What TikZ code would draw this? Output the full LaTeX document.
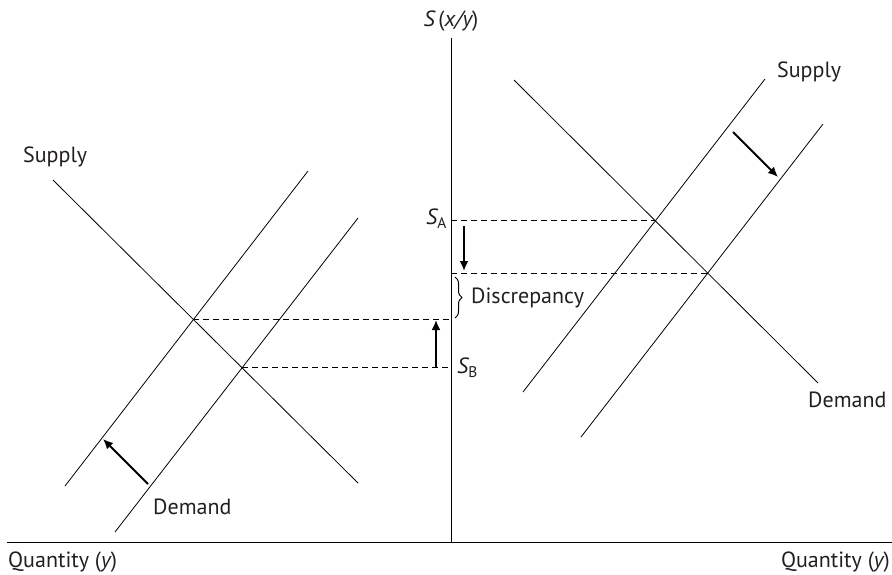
\documentclass[tikz,border=0pt]{standalone}
\usepackage{fontspec}
\setmainfont{PT Sans}
\usetikzlibrary{arrows.meta,decorations.pathreplacing}
\definecolor{InkColor}{HTML}{000000}
\definecolor{LabelColor}{HTML}{231F20}

\begin{document}
\begin{tikzpicture}[x=1pt,y=-1pt,
  curve/.style={line width=0.8pt, color=InkColor},
  axisline/.style={line width=0.9pt, color=InkColor},
  guide/.style={line width=1.1pt, dash pattern=on 6pt off 4pt},
  shiftarrow/.style={line width=1.9pt, -{Latex[length=10pt,width=9pt]}},
  lbl/.style={font=\fontsize{22}{26}\selectfont, text=LabelColor, inner sep=0pt}]
  \useasboundingbox (0,0) rectangle (892,574);

  % axes
  \coordinate (ytop) at (451,38);
  \coordinate (ybot) at (451,542);
  \coordinate (xleft) at (7,542);
  \coordinate (xright) at (892,542);
  \draw[axisline] (ytop) -- (ybot);
  \draw[axisline] (xleft) -- (xright);

  % left market
  \coordinate (lsupA) at (53,180);
  \coordinate (lsupB) at (358,483);
  \coordinate (ldemA) at (65,486);
  \coordinate (ldemB) at (308,171);
  \coordinate (ldemnA) at (115,532);
  \coordinate (ldemnB) at (358,218);
  \draw[curve] (lsupA) -- (lsupB);
  \draw[curve] (ldemA) -- (ldemB);
  \draw[curve] (ldemnA) -- (ldemnB);
  \coordinate (leqA) at (intersection of lsupA--lsupB and ldemA--ldemB);
  \coordinate (leqB) at (intersection of lsupA--lsupB and ldemnA--ldemnB);

  % right market
  \coordinate (rdemA) at (514,80);
  \coordinate (rdemB) at (818,383);
  \coordinate (rsupA) at (523,392);
  \coordinate (rsupB) at (765,79);
  \coordinate (rsupnA) at (581,437);
  \coordinate (rsupnB) at (823,124);
  \draw[curve] (rdemA) -- (rdemB);
  \draw[curve] (rsupA) -- (rsupB);
  \draw[curve] (rsupnA) -- (rsupnB);
  \coordinate (reqA) at (intersection of rdemA--rdemB and rsupA--rsupB);
  \coordinate (reqB) at (intersection of rdemA--rdemB and rsupnA--rsupnB);

  % rates
  \draw[guide] (leqA) -- (leqA -| ytop);
  \draw[guide] (leqB) -- (leqB -| ytop);
  \draw[guide] (reqA -| ytop) -- (reqA);
  \draw[guide] (reqB -| ytop) -- (reqB);

  % shifts
  \coordinate (riseA) at (436,368);
  \coordinate (riseB) at (436,320);
  \coordinate (dropA) at (464,226);
  \coordinate (dropB) at (464,271);
  \coordinate (lshiftA) at (148,484);
  \coordinate (lshiftB) at (103,439);
  \coordinate (rshiftA) at (733,132);
  \coordinate (rshiftB) at (778,177);
  \draw[shiftarrow] (riseA) -- (riseB);
  \draw[shiftarrow] (dropA) -- (dropB);
  \draw[shiftarrow] (lshiftA) -- (lshiftB);
  \draw[shiftarrow] (rshiftA) -- (rshiftB);

  % discrepancy brace
  \coordinate (braceA) at (455,277);
  \coordinate (braceB) at (455,318);
  \draw[line width=1pt, decorate, decoration={brace, amplitude=7pt}] (braceA) -- (braceB);

  % labels
  \node[lbl] (ratelbl) at (451,21) {\itshape S\,\upshape(\itshape x/y\upshape)};
  \node[lbl, anchor=east] (salbl) at (447,219) {\itshape S\upshape\textsubscript{A}};
  \node[lbl, anchor=west] (sblbl) at (457,368) {\itshape S\upshape\textsubscript{B}};
  \node[lbl, anchor=west] (discrep) at (471,298) {Discrepancy};
  \node[lbl, anchor=west] (lsuplbl) at (23,157) {Supply};
  \node[lbl, anchor=west] (ldemlbl) at (153,507) {Demand};
  \node[lbl, anchor=west] (rsuplbl) at (777,72) {Supply};
  \node[lbl, anchor=west] (rdemlbl) at (808,400) {Demand};
  \node[lbl, anchor=west] (qleft) at (8,562) {Quantity (\itshape y\upshape)};
  \node[lbl, anchor=east] (qright) at (890,562) {Quantity (\itshape y\upshape)};
\end{tikzpicture}
\end{document}
